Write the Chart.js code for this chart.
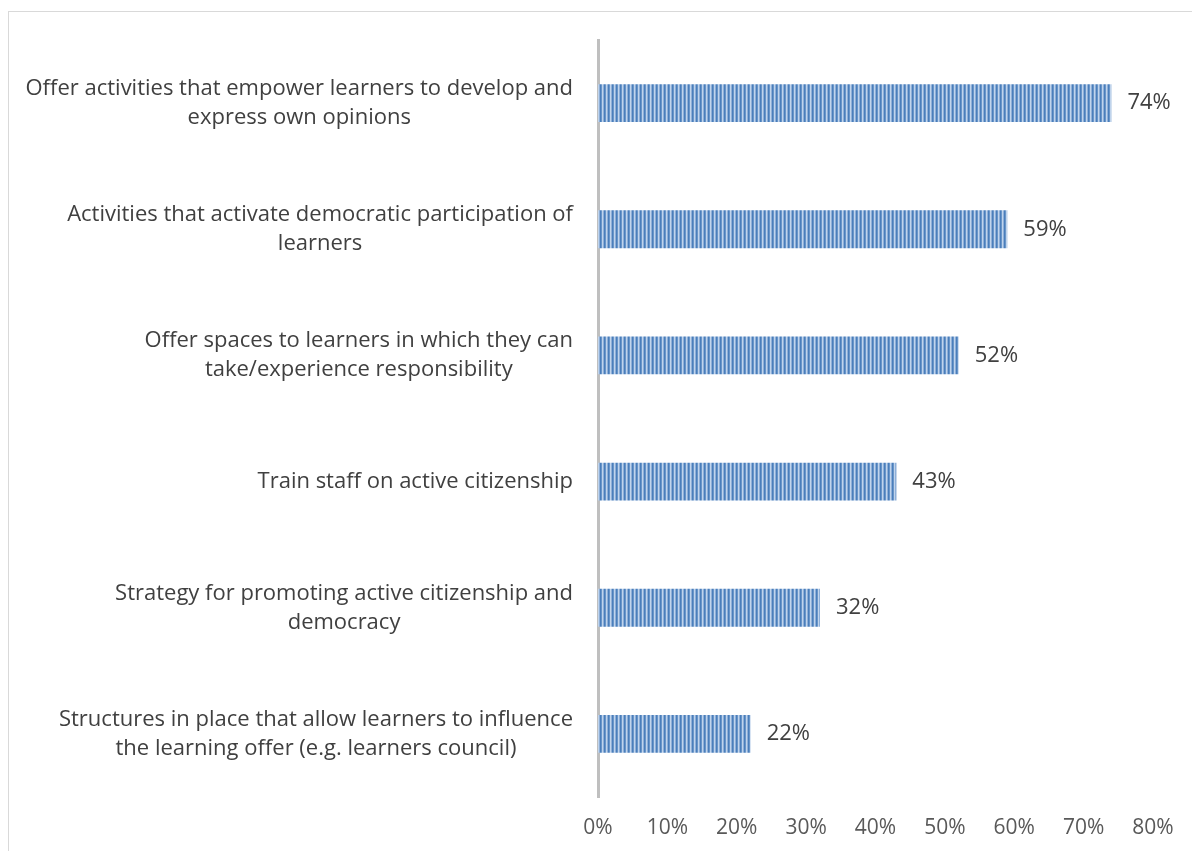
<!DOCTYPE html>
<html>
<head>
<meta charset="utf-8">
<script src="https://cdn.jsdelivr.net/npm/chart.js@4.4.0/dist/chart.umd.min.js"></script>
<style>
  html, body { margin: 0; padding: 0; background: #ffffff; overflow: hidden; }
  #frame { position: absolute; left: 8px; top: 11px; width: 1400px; height: 1000px; border: 1px solid #d9d9d9; box-sizing: border-box; }
  #wrap { position: absolute; left: 0; top: 0; width: 1192px; height: 851px; }
</style>
</head>
<body>
<div id="frame"></div>
<div id="wrap"><canvas id="c" width="1192" height="851"></canvas></div>
<script>
const categories = [
  ["Offer activities that empower learners to develop and", "express own opinions"],
  ["Activities that activate democratic participation of", "learners"],
  ["Offer spaces to learners in which they can", "take/experience responsibility"],
  ["Train staff on active citizenship"],
  ["Strategy for promoting active citizenship and", "democracy"],
  ["Structures in place that allow learners to influence", "the learning offer (e.g. learners council)"]
];
const values = [74, 59, 52, 43, 32, 22];
const tickValues = [0, 10, 20, 30, 40, 50, 60, 70, 80];

const FONT = "'Open Sans', Lato, sans-serif";
const LABEL_SIZE = 22;
const TICK_SIZE = 21;

function stripePattern() {
  const p = document.createElement('canvas');
  p.width = 4; p.height = 4;
  const g = p.getContext('2d');
  const cols = ['#4a7ebb', '#6a96c9', '#c0d4ec', '#8eafd8'];
  cols.forEach((c, i) => { g.fillStyle = c; g.fillRect(i, 0, 1, 4); });
  return g.createPattern(p, 'repeat');
}

const labelPlugin = {
  id: 'labels',
  afterDraw(chart) {
    const ctx = chart.ctx;
    const yScale = chart.scales.y;
    ctx.save();
    ctx.font = LABEL_SIZE + 'px ' + FONT;
    ctx.fillStyle = '#404040';
    ctx.textBaseline = 'middle';
    ctx.textAlign = 'center';
    const right = 573;
    const lh = 29;
    categories.forEach((lines, i) => {
      const cy = yScale.getPixelForValue(i);
      const maxW = Math.max(...lines.map(l => ctx.measureText(l).width));
      const cx = right - maxW / 2;
      const y0 = cy - (lines.length - 1) * lh / 2;
      lines.forEach((l, k) => ctx.fillText(l, cx, y0 + k * lh));
    });
    // value labels
    const meta = chart.getDatasetMeta(0);
    ctx.textAlign = 'left';
    meta.data.forEach((bar, i) => {
      ctx.fillText(values[i] + '%', bar.x + 16, bar.y);
    });
    ctx.restore();
  }
};

new Chart(document.getElementById('c'), {
  type: 'bar',
  data: {
    labels: categories.map(l => l.join(' ')),
    datasets: [{
      data: values,
      backgroundColor: stripePattern(),
      borderWidth: 0,
      categoryPercentage: 1,
      barPercentage: 0.3
    }]
  },
  options: {
    indexAxis: 'y',
    responsive: false,
    animation: false,
    layout: { padding: { top: 40, right: 39, bottom: 0, left: 0 } },
    plugins: { legend: { display: false }, tooltip: { enabled: false } },
    scales: {
      x: {
        min: 0, max: 80,
        afterBuildTicks(scale) { scale.ticks = tickValues.map(v => ({ value: v })); },
        ticks: {
          callback: v => v + '%',
          color: '#595959',
          font: { family: FONT, size: TICK_SIZE },
          padding: 18,
          maxRotation: 0
        },
        grid: { display: false, drawTicks: false },
        border: { display: false },
        afterFit(scale) { scale.height = 54; }
      },
      y: {
        ticks: { display: false },
        grid: { display: false, drawTicks: false },
        border: { display: true, color: '#bfbfbf', width: 3 },
        afterFit(scale) { scale.width = 598; }
      }
    }
  },
  plugins: [labelPlugin]
});
</script>
</body>
</html>
